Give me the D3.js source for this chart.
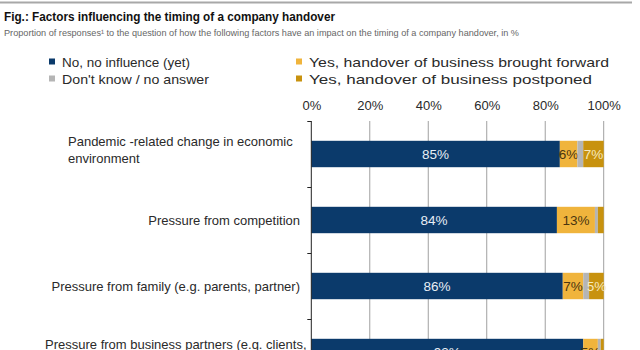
<!DOCTYPE html>
<html><head><meta charset="utf-8">
<script src="https://cdn.jsdelivr.net/npm/d3@7"></script>
<style>body{margin:0;background:#fff}svg{display:block;font-family:"Liberation Sans",Arial,sans-serif}</style>
</head><body><svg id="c" width="640" height="350"></svg>
<script>
const categories = [
  ["Pandemic -related change in economic", "environment"],
  ["Pressure from competition"],
  ["Pressure from family (e.g.  parents, partner)"],
  ["Pressure from business partners (e.g. clients,", "suppliers)"]
];
const seriesNames = ["No, no influence (yet)", "Yes, handover of business brought forward", "Don't know / no answer", "Yes, handover of business postponed"];
const noInfluence = [85, 84, 86, 93];
const broughtForward = [6, 13, 7, 5];
const dontKnow = [2, 1, 2, 1];
const postponed = [7, 2, 5, 1];
const tickValues = [0, 20, 40, 60, 80, 100];
const colors = ["#0b3a6b", "#f0b43c", "#b5b5b5", "#c8920e"];
const labelColors = ["#e8eef5", "#4a3510", "#333", "#f6e9bf"];

const svg = d3.select("#c");
const x = d3.scaleLinear().domain([0, 100]).range([311.3, 603.7]);
const keys = categories.map((c, i) => i);
const y = d3.scaleBand().domain(keys).range([121, 121 + 66 * categories.length]).padding(0);

svg.append("line").attr("x1", 0).attr("x2", 632).attr("y1", 2.5).attr("y2", 2.5).attr("stroke", "#a8a8a8").attr("stroke-width", 2);
svg.append("text").attr("x", 4).attr("y", 21).attr("font-size", 12.5).attr("font-weight", "bold").attr("fill", "#111")
  .attr("textLength", 331).attr("lengthAdjust", "spacingAndGlyphs")
  .text("Fig.: Factors influencing the timing of a company handover");
svg.append("text").attr("x", 4).attr("y", 35.5).attr("font-size", 9.8).attr("fill", "#666")
  .attr("textLength", 515).attr("lengthAdjust", "spacingAndGlyphs")
  .text("Proportion of responses\u00b9 to the question of how the following factors have an impact on the timing of a company handover, in %");

const legendPos = [[49, 62], [296, 62], [49, 79], [296, 79]];
const legendWidths = [128, 300, 147, 283];
seriesNames.forEach((n, i) => {
  const [lx, ly] = legendPos[i];
  svg.append("rect").attr("x", lx).attr("y", ly - 3.5).attr("width", 6).attr("height", 6).attr("fill", colors[i]);
  svg.append("text").attr("x", lx + 13).attr("y", ly + 4.5).attr("font-size", 12.8).attr("fill", "#2a2a2a")
    .attr("textLength", legendWidths[i]).attr("lengthAdjust", "spacingAndGlyphs").text(n);
});

svg.append("g").selectAll("line").data(tickValues.slice(1)).join("line")
  .attr("x1", d => x(d)).attr("x2", d => x(d)).attr("y1", 121).attr("y2", 350)
  .attr("stroke", "#a0a0a0").attr("stroke-width", 1);

const xAxis = d3.axisTop(x).tickValues(tickValues).tickFormat(d => d + "%").tickSize(0).tickPadding(0);
const gx = svg.append("g").attr("transform", "translate(0,110)").call(xAxis);
gx.select(".domain").remove();
gx.selectAll("text").attr("font-size", 13).attr("fill", "#2a2a2a").attr("font-family", "\"Liberation Sans\",Arial,sans-serif");

const stackData = keys.map(i => ({i, s0: noInfluence[i], s1: broughtForward[i], s2: dontKnow[i], s3: postponed[i]}));
const stack = d3.stack().keys(["s0", "s1", "s2", "s3"])(stackData);
const bh = y.bandwidth() * 0.4;
const off = (y.bandwidth() - bh) / 2;
stack.forEach((layer, li) => {
  const g = svg.append("g");
  g.selectAll("rect").data(layer).join("rect")
    .attr("x", d => x(d[0])).attr("width", d => x(d[1]) - x(d[0]))
    .attr("y", d => y(d.data.i) + off).attr("height", bh).attr("fill", colors[li]);
  g.selectAll("text").data(layer.filter(d => d[1] - d[0] >= 5)).join("text")
    .attr("x", d => (x(d[0]) + x(d[1])) / 2).attr("y", d => y(d.data.i) + y.bandwidth() / 2 + 5)
    .attr("text-anchor", "middle").attr("font-size", 13.5).attr("fill", labelColors[li])
    .text(d => Math.round(d[1] - d[0]) + "%");
});

const gy = svg.append("g");
gy.append("line").attr("x1", x(0)).attr("x2", x(0)).attr("y1", 121).attr("y2", 350).attr("stroke", "#222");
gy.selectAll(".tk").data(keys).join("line").attr("class", "tk")
  .attr("x1", x(0) - 4).attr("x2", x(0)).attr("y1", d => y(d) + 0.5).attr("y2", d => y(d) + 0.5).attr("stroke", "#222");

const firstLineOffset = [-8.5, 0, 0, -3];
categories.forEach((lines, i) => {
  const cy = y(i) + y.bandwidth() / 2;
  const t = svg.append("text").attr("font-size", 13).attr("fill", "#2a2a2a");
  if (lines.length === 1) {
    t.attr("x", 300).attr("y", cy + 4.5).attr("text-anchor", "end").text(lines[0]);
  } else {
    const lx = i === 0 ? 68 : 45;
    t.selectAll("tspan").data(lines).join("tspan")
      .attr("x", lx).attr("y", (d, k) => cy + firstLineOffset[i] + k * 17.5).text(d => d);
  }
});
</script></body></html>
